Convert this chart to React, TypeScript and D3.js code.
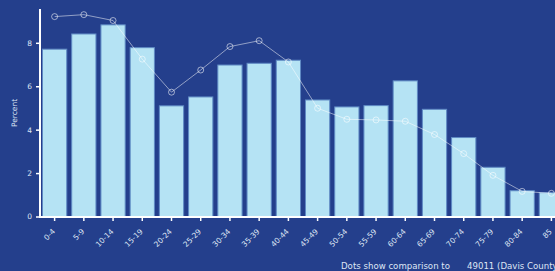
import React from 'react';
import * as d3 from 'd3';

const ageGroups = ['0-4', '5-9', '10-14', '15-19', '20-24', '25-29', '30-34', '35-39', '40-44', '45-49', '50-54', '55-59', '60-64', '65-69', '70-74', '75-79', '80-84', '85'];
const percentValues = [7.73, 8.43, 8.85, 7.8, 5.12, 5.53, 7.0, 7.08, 7.22, 5.39, 5.07, 5.13, 6.27, 4.96, 3.66, 2.29, 1.21, 1.12];
const comparisonValues = [9.23, 9.32, 9.05, 7.27, 5.75, 6.77, 7.85, 8.12, 7.14, 5.01, 4.5, 4.47, 4.41, 3.8, 2.92, 1.92, 1.18, 1.09];
const yTicks = [0, 2, 4, 6, 8];

const W = 555, H = 271;
const margin = { top: 9, left: 40, bottom: 54 };
const plotRight = 566;
const bg = '#243f8c';
const textColor = '#dfe6f5';
const font = '"DejaVu Sans", Verdana, sans-serif';

export default function App() {
  const y = d3.scaleLinear()
    .domain([0, 9.58])
    .range([H - margin.bottom, margin.top]);

  const x = d3.scaleBand()
    .domain(ageGroups)
    .range([margin.left, plotRight])
    .paddingInner(0.17)
    .paddingOuter(0.085);

  const cx = (i) => x(ageGroups[i]) + x.bandwidth() / 2;
  const line = d3.line((d, i) => cx(i), (d) => y(d));
  const y0 = y(0);

  return (
    <div style={{ position: 'absolute', left: 0, top: 0, width: W, height: H, overflow: 'hidden', background: bg }}>
      <svg width={W} height={H} style={{ display: 'block' }} fontFamily={font}>
        <rect width={W} height={H} fill={bg} />
        {percentValues.map((v, i) => (
          <rect
            key={`bar-${ageGroups[i]}`}
            x={x(ageGroups[i])}
            y={y(v)}
            width={x.bandwidth()}
            height={y0 - y(v)}
            fill="#b5e3f4"
            stroke="#5f8ac4"
            strokeWidth="1" />
        ))}
        <path d={line(comparisonValues)} fill="none" stroke="#ffffff" strokeOpacity="0.5" strokeWidth="1" />
        {comparisonValues.map((v, i) => (
          <circle key={`dot-${i}`} cx={cx(i)} cy={y(v)} r="3" fill="none" stroke="#ffffff" strokeOpacity="0.55" strokeWidth="1" />
        ))}
        {/* y axis */}
        <line x1={margin.left} x2={margin.left} y1={margin.top} y2={y0} stroke="#fff" strokeWidth="2" />
        {yTicks.map((t) => (
          <g key={`yt-${t}`} transform={`translate(0,${y(t)})`}>
            <line x1={margin.left - 4} x2={margin.left} stroke="#fff" strokeWidth="1.5" />
            <text x={margin.left - 8} dy="0.32em" textAnchor="end" fontSize="7.5" fill={textColor}>{t}</text>
          </g>
        ))}
        <text transform="translate(17,113) rotate(-90)" textAnchor="middle" fontSize="7.5" fill={textColor}>Percent</text>
        {/* x axis */}
        <line x1={margin.left - 1} x2={plotRight} y1={y0} y2={y0} stroke="#fff" strokeWidth="2" />
        {ageGroups.map((g, i) => (
          <g key={`xt-${g}`} transform={`translate(${cx(i)},${y0})`}>
            <line y1="0" y2="4" stroke="#fff" strokeWidth="1.5" />
            <text transform="translate(1,15) rotate(-45)" textAnchor="end" fontSize="7.5" fill={textColor}>{g}</text>
          </g>
        ))}
        <text x="341" y="269" fontSize="8.6" fill={textColor}>Dots show comparison to</text>
        <text x="467" y="269" fontSize="8.6" fill={textColor}>49011 (Davis County)</text>
      </svg>
    </div>
  );
}
